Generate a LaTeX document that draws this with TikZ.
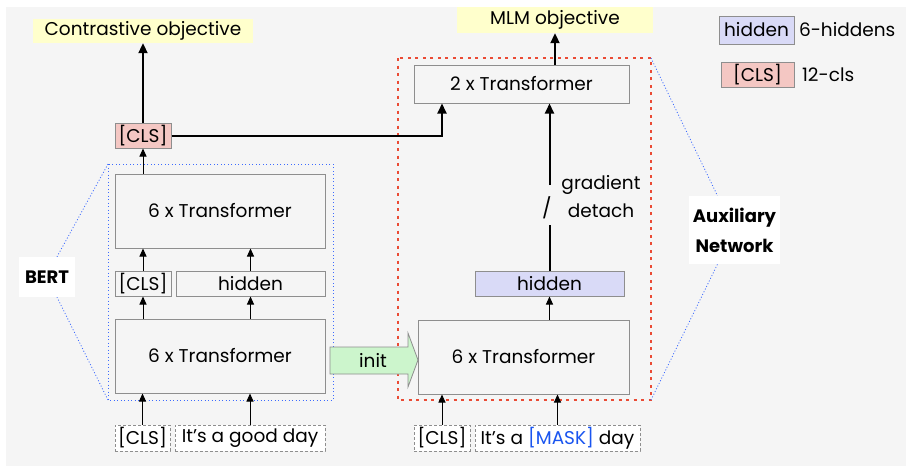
\documentclass[tikz,border=0pt]{standalone}
\usepackage{fontspec}
\setmainfont{Poppins}
\usetikzlibrary{positioning,arrows.meta}

\definecolor{bgray}{HTML}{F5F5F5}
\definecolor{boxline}{HTML}{8E8E8E}
\definecolor{clsred}{HTML}{F4C7C3}
\definecolor{hidblue}{HTML}{D9DAF7}
\definecolor{objyel}{HTML}{FFFFCC}
\definecolor{initgrn}{HTML}{CCF5CC}
\definecolor{auxred}{HTML}{EA4B35}
\definecolor{bertblue}{HTML}{3D6BFF}
\definecolor{maskblue}{HTML}{1A55F0}

\begin{document}
\begin{tikzpicture}[x=1pt, y=-1pt,
  font=\fontsize{18.5}{22}\selectfont,
  tfm/.style={rectangle, draw=boxline, line width=1pt, fill=bgray, inner sep=0pt},
  tok/.style={tfm, fill=clsred},
  hid/.style={tfm, fill=hidblue},
  inp/.style={rectangle, draw=boxline, line width=0.8pt, dash pattern=on 3pt off 2pt, fill=white, inner sep=0pt},
  obj/.style={rectangle, fill=objyel, inner sep=0pt},
  lbl/.style={rectangle, fill=white, align=center, inner sep=0pt, font=\fontsize{18}{30}\selectfont\bfseries},
  up/.style={-{Triangle[length=8pt,width=7pt]}, line width=1pt},
  upthick/.style={-{Triangle[length=10pt,width=9pt]}, line width=2pt},
  bertbox/.style={draw=bertblue, line width=1pt, dash pattern=on 1pt off 2.5pt},
  auxbox/.style={draw=auxred, line width=1.8pt, dash pattern=on 3pt off 4.5pt},
  zoomline/.style={draw=bertblue, line width=0.8pt, dash pattern=on 1pt off 2pt},
  initarr/.style={draw=boxline, line width=0.8pt, fill=initgrn}
]
\useasboundingbox (0,0) rectangle (906,466);
\fill[white] (0,0) rectangle (906,466);
\fill[bgray] (6,7) rectangle (906,466);

% objectives and legend
\node[obj, minimum width=220, minimum height=24] (conobj) at (143,31) {Contrastive objective};
\node[obj, minimum width=196, minimum height=26] (mlmobj) at (555,20) {MLM objective};
\node[hid, minimum width=75, minimum height=28] (keyhid) at (756.5,30) {hidden};
\node[right=1pt of keyhid] (keyhidtxt) {6-hiddens};
\node[tok, minimum width=73, minimum height=25] (keycls) at (757.5,74.5) {[CLS]};
\node[right=4pt of keycls] (keyclstxt) {12-cls};

% BERT
\coordinate (bertnw) at (108,164);
\coordinate (bertse) at (333,400);
\draw[bertbox] (bertnw) rectangle (bertse);
\node[tok, minimum width=56, minimum height=25] (cls) at (143,135.5) {[CLS]};
\node[tfm, minimum width=210, minimum height=74] (bertup) at (220,211) {6 x Transformer};
\node[tfm, minimum width=56, minimum height=25] (midcls) at (143,283.5) {[CLS]};
\node[tfm, minimum width=149, minimum height=25] (midhid) at (250.5,283.5) {hidden};
\node[tfm, minimum width=210, minimum height=74] (bertlow) at (220,356) {6 x Transformer};
\node[inp, minimum width=55, minimum height=26] (incls) at (142.5,438) {[CLS]};
\node[inp, minimum width=150, minimum height=26] (insent) at (250,438) {It’s a good day};
\node[lbl, minimum width=56, minimum height=40] (bertlbl) at (47,277) {BERT};

% auxiliary network
\coordinate (auxnw) at (398,58);
\coordinate (auxse) at (651,400);
\draw[auxbox] (auxnw) rectangle (auxse);
\node[tfm, minimum width=215, minimum height=38] (auxtop) at (521.5,84) {2 x Transformer};
\node[hid, minimum width=149, minimum height=25] (auxhid) at (549.5,283.5) {hidden};
\node[tfm, minimum width=211, minimum height=74] (auxlow) at (523.5,357) {6 x Transformer};
\node[inp, minimum width=56, minimum height=26] (auxincls) at (442,438) {[CLS]};
\node[inp, minimum width=165, minimum height=26] (auxinsent) at (557.5,438) {It’s a \textcolor{maskblue}{[MASK]} day};
\node[lbl, minimum width=91, minimum height=68] (auxlbl) at (734.5,230) {Auxiliary\\Network};

% init arrow
\draw[initarr] (330,347) -- (408,347) -- (408,333) -- (418,360) -- (408,387) -- (408,374) -- (330,374) -- cycle;
\node (init) at (373,360) {init};

% zoom lines
\draw[zoomline] (bertnw) -- ([xshift=10pt]bertlbl.north);
\draw[zoomline] (bertnw |- bertse) -- ([xshift=10pt]bertlbl.south);
\draw[zoomline] (auxse |- auxnw) -- ([xshift=-17pt]auxlbl.north);
\draw[zoomline] (auxse) -- ([xshift=-17pt]auxlbl.south);

% BERT arrows
\draw[up] (incls.north) -- (incls.north |- bertlow.south);
\draw[up] (insent.north) -- (insent.north |- bertlow.south);
\draw[up] (midcls.south |- bertlow.north) -- (midcls.south);
\draw[up] (midhid.south |- bertlow.north) -- (midhid.south);
\draw[up] (midcls.north) -- (midcls.north |- bertup.south);
\draw[up] (midhid.north) -- (midhid.north |- bertup.south);
\draw[up] (cls.south |- bertup.north) -- (cls.south);
\draw[upthick] (cls.north) -- (conobj.south);
\draw[upthick] (cls.east) -| ([xshift=-79.5pt]auxtop.south);

% auxiliary arrows
\draw[up] (auxincls.north) -- (auxincls.north |- auxlow.south);
\draw[up] (auxinsent.north) -- (auxinsent.north |- auxlow.south);
\draw[up] (auxhid.south |- auxlow.north) -- (auxhid.south);
\coordinate (cutlo) at (549.5,225);
\coordinate (cuthi) at (549.5,185);
\draw[line width=2pt] (auxhid.north) -- (cutlo);
\draw[upthick] (cuthi) -- (cuthi |- auxtop.south);
\node[font=\fontsize{20}{24}\selectfont] (slash) at (547,208) {/};
\node[align=center, font=\fontsize{18.5}{28}\selectfont] (gradtxt) at (601,197) {gradient\\detach};
\draw[upthick] (mlmobj.south |- auxtop.north) -- (mlmobj.south);
\end{tikzpicture}
\end{document}
